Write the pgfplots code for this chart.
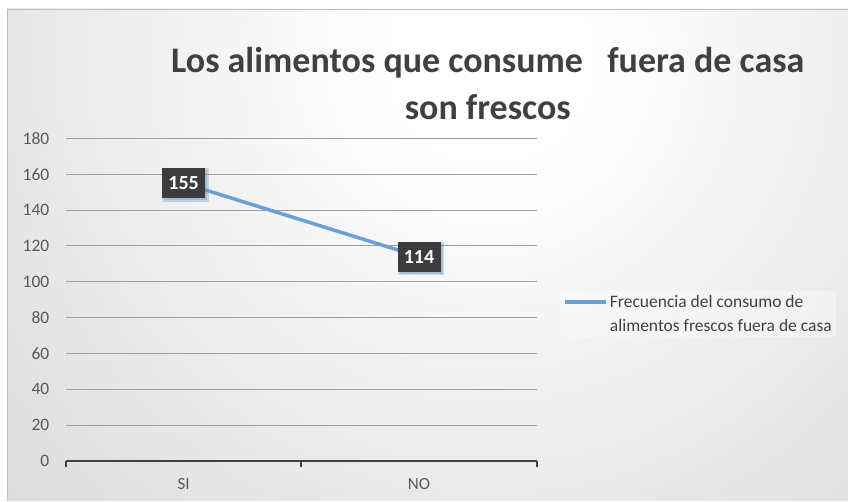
\documentclass[border=0pt]{standalone}
\usepackage{pgfplots}
\pgfplotsset{compat=1.18}
\usepackage{fontspec}
\setmainfont{Carlito}
\usetikzlibrary{shadows}
\definecolor{linecol}{HTML}{6A9FD8}
\definecolor{txt}{HTML}{404040}
\definecolor{tickc}{HTML}{595959}
\definecolor{gridc}{HTML}{A0A0A0}
\definecolor{boxc}{HTML}{3C3C3C}
\pgfdeclareradialshading{bgshade}{\pgfpoint{0bp}{0bp}}{color(0bp)=(white); color(3bp)=(white); color(22bp)=(black!15); color(35bp)=(black!21); color(50bp)=(black!23)}
\begin{document}
\begin{tikzpicture}[x=1pt,y=1pt]
\fill[white] (0,0) rectangle (848,501);
\begin{scope}
\clip (7,0) rectangle (848,492);
\shade[shading=bgshade] (490,441) circle (800);
\end{scope}
\draw[black!25, line width=0.8pt] (7,0) -- (7,492) -- (848,492);
\node[anchor=base, font=\bfseries\fontsize{36}{40}\selectfont, text=txt] at (488,428) {Los alimentos que consume\ \ \ fuera de casa};
\node[anchor=base, font=\bfseries\fontsize{36}{40}\selectfont, text=txt] at (488,381) {son frescos};
\begin{axis}[
  at={(66pt,40pt)}, anchor=south west,
  scale only axis, width=471pt, height=322.5pt,
  xmin=-0.5, xmax=1.5, ymin=0, ymax=180,
  axis lines*=left,
  y axis line style={draw=none},
  x axis line style={draw=txt, line width=2.5pt},
  ytick={0,20,...,180},
  ytick style={draw=none},
  ymajorgrids,
  grid style={gridc, line width=0.8pt},
  xtick={-0.5,0.5,1.5},
  xticklabels={,,},
  tick align=outside,
  major tick length=6pt,
  xtick style={draw=txt, line width=2.2pt},
  extra x ticks={0,1},
  extra x tick labels={SI,NO},
  extra x tick style={major tick length=0pt, xtick style={draw=none}, grid=none, xticklabel style={yshift=-14pt}},
  /pgf/number format/assume math mode=true,
  tick label style={font=\fontsize{17}{20}\selectfont, text=tickc},
  yticklabel={\fontsize{17.5}{20}\selectfont\pgfmathprintnumber[assume math mode=true]{\tick}},
  yticklabel style={text=tickc, inner sep=0pt, xshift=-10.5pt, anchor=east},
  clip=false,
  legend style={at={(1.052,0.455)}, anchor=west, draw=none, fill=white, fill opacity=0.35, text opacity=1,
    font=\fontsize{17.5}{24}\selectfont, text=txt, cells={align=left, anchor=west}, inner sep=2pt},
  legend image code/.code={\draw[#1, line width=3.5pt] (0pt,12pt) -- (41pt,12pt);},
]
\addplot[linecol, line width=3.5pt, mark=none,
  nodes near coords,
  nodes near coords style={anchor=center, fill=boxc, text=white,
    font=\bfseries\fontsize{20}{20}\selectfont,
    minimum width=43pt, minimum height=30pt, inner sep=0pt,
    drop shadow={opacity=0.35, shadow xshift=2pt, shadow yshift=-2pt}}
] coordinates {(0,155) (1,114)};
\addlegendentry{Frecuencia del consumo de\\alimentos frescos fuera de casa}
\end{axis}
\end{tikzpicture}
\end{document}
